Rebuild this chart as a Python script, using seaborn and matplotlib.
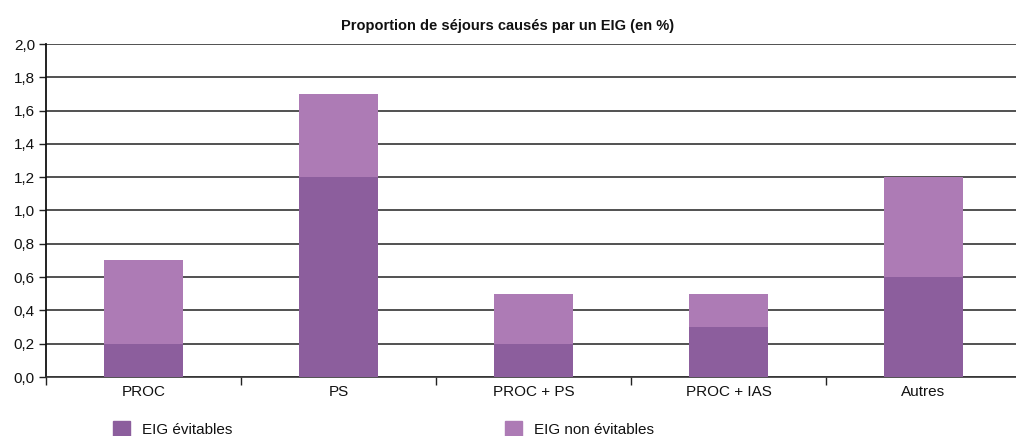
import seaborn as sns
import pandas as pd
from matplotlib import pyplot as plt
from matplotlib.patches import Patch

categories = ['PROC', 'PS', 'PROC + PS', 'PROC + IAS', 'Autres']
evitables = [0.2, 1.2, 0.2, 0.3, 0.6]
non_evitables = [0.5, 0.5, 0.3, 0.2, 0.6]

dark = '#8c5e9d'
light = '#ad7bb5'

sns.set_style('white')
plt.rcParams['font.family'] = ['Liberation Sans', 'DejaVu Sans']
plt.rcParams['text.color'] = '#111111'
plt.rcParams['xtick.labelcolor'] = '#111111'
plt.rcParams['ytick.labelcolor'] = '#111111'

df = pd.DataFrame({'cat': categories, 'evit': evitables, 'non': non_evitables})
df['total'] = df['evit'] + df['non']

fig = plt.figure(figsize=(10.16, 4.36), dpi=100)
ax = fig.add_axes([46 / 1016, 59 / 436, 975 / 1016, 333 / 436])

sns.barplot(data=df, x='cat', y='total', color=light, width=0.41,
            saturation=1, linewidth=0, ax=ax, zorder=3)
sns.barplot(data=df, x='cat', y='evit', color=dark, width=0.41,
            saturation=1, linewidth=0, ax=ax, zorder=4)

ax.set_xlim(-0.5, 4.5)
ax.set_ylim(0, 2.0)
ax.set_yticks([i / 10 for i in range(0, 21, 2)])
ax.set_yticklabels(['{:.1f}'.format(i / 10).replace('.', ',') for i in range(0, 21, 2)])
ax.yaxis.grid(True, color='#333333', linewidth=1.2, zorder=0)
ax.set_axisbelow(True)

ax.set_xticks(range(len(categories)))
ax.set_xticklabels(categories)
ax.set_xticks([-0.5, 0.5, 1.5, 2.5, 3.5], minor=True)
ax.tick_params(axis='x', which='major', length=0, pad=6, labelsize=11)
ax.tick_params(axis='x', which='minor', length=6, width=1, direction='out',
               color='#222222', bottom=True)
ax.tick_params(axis='y', length=5, width=1, direction='out', color='#222222',
               left=True, labelsize=11, pad=3)

for side in ['top', 'right']:
    ax.spines[side].set_visible(False)
ax.spines['left'].set_color('#111111')
ax.spines['left'].set_linewidth(1.3)
ax.spines['bottom'].set_color('#333333')
ax.spines['bottom'].set_linewidth(1.2)

ax.set_xlabel('')
ax.set_ylabel('')
fig.text(0.5, 410 / 436, 'Proportion de séjours causés par un EIG (en %)',
         ha='center', va='center', fontsize=10.5, fontweight='bold')

for x, lab, col in [(113, 'EIG évitables', dark), (505, 'EIG non évitables', light)]:
    fig.legend(handles=[Patch(color=col, label=lab)], loc='center left',
               bbox_to_anchor=(x / 1016, 7 / 436), frameon=False,
               handlelength=1.1, handleheight=1.1, handletextpad=0.8,
               borderpad=0, borderaxespad=0, fontsize=11)

fig.savefig('out.png', dpi=100)
